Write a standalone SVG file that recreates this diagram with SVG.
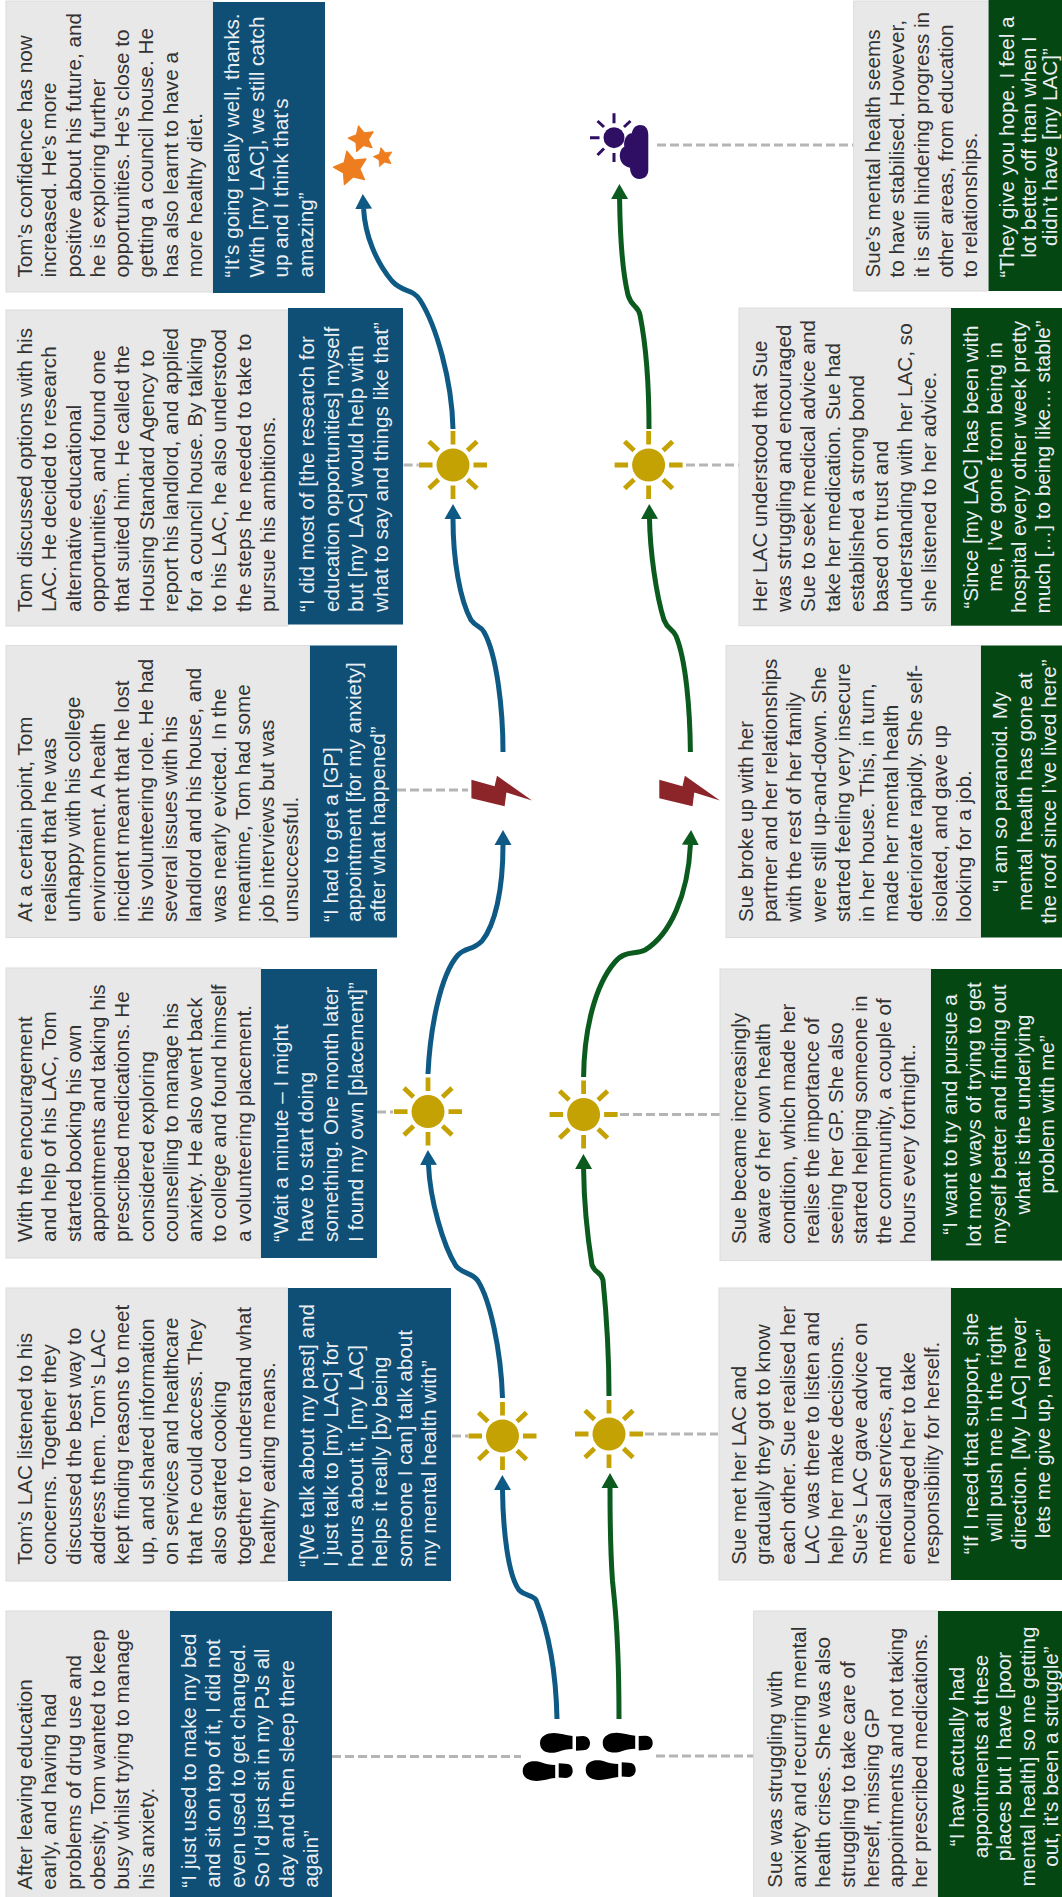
<svg xmlns="http://www.w3.org/2000/svg" xmlns:xlink="http://www.w3.org/1999/xlink" width="1062" height="1897" viewBox="0 0 1062 1897">
<style>
text{font-family:"Liberation Sans",Arial,sans-serif;font-size:20.7px}
.t{fill:#333}
.q{fill:#e9eef2}
.c{text-anchor:middle}
.g{fill:#e8e8e8;stroke:#dcdcdc;stroke-width:1}
.b{fill:#0f4f76}
.d{fill:#054713}
.flow{fill:none;stroke-width:5;stroke-linecap:butt}
.tom{stroke:#0f5a84;marker-end:url(#ab)}
.sue{stroke:#0b5a1e;marker-end:url(#ag)}
.dash{fill:none;stroke:#b5b5b5;stroke-width:3;stroke-dasharray:9 4}
.foot{fill:#000}
.star{fill:#ed7d1f;stroke:#ed7d1f;stroke-width:.08;stroke-linejoin:round}
.ray{stroke:#c4a204;stroke-width:4.8;fill:none}
.ray2{stroke:#2e0f63;stroke-width:3;fill:none}
</style>
<defs>
<marker id="ab" markerUnits="userSpaceOnUse" markerWidth="17" markerHeight="18" refX="0" refY="9" orient="auto"><path d="M0,0.5 L15,9 L0,17.5 Z" fill="#0f5a84"/></marker>
<marker id="ag" markerUnits="userSpaceOnUse" markerWidth="17" markerHeight="18" refX="0" refY="9" orient="auto"><path d="M0,0.5 L15,9 L0,17.5 Z" fill="#0b5a1e"/></marker>
<g id="sun">
<circle r="16.5" fill="#c4a204"/>
<path class="ray" d="M-34,0H-20.5M20.5,0H34M0,-34V-20.5M0,20.5V34M-24,-23.5L-14.5,-14.5M24,-23.5L14.5,-14.5M-24,23.5L-14.5,14.5M24,23.5L14.5,14.5"/>
</g>
<g id="print">
<path d="M0,10 C0,3 7,0 14,0 C20,0 26,2.4 32.5,3 L32.5,16 C27,16.4 23,17 19,18.6 C12,21.2 0,20.5 0,10 Z"/>
<path d="M36,3.4 L43,3 C48,3 50,7 50,10 C50,14 48,17.2 43,17.2 L36,17.8 Z"/>
</g>
<polygon id="starshape" points="-.242,-.97 .187,-.464 .848,-.53 .499,.035 .766,.643 .121,.485 -.375,.927 -.424,.265 -.998,-.07 -.383,-.321"/>
<g id="bolt"><polygon points="471.4,779.8 494.6,786.3 497,775.7 532,800.6 506.4,792.4 504.6,806.3 471.4,798.2" fill="#8c2529"/></g>
</defs>
<rect width="1062" height="1897" fill="#fff"/>

<g id="connectors">
<path class="dash" d="M332,1756.5H521"/>
<path class="dash" d="M656,1756H756"/>
<path class="dash" d="M452,1436H468"/>
<path class="dash" d="M645,1434H718"/>
<path class="dash" d="M377,1112H393"/>
<path class="dash" d="M620,1114.5H721"/>
<path class="dash" d="M397,790H468"/>
<path class="dash" d="M403.6,465H418.6"/>
<path class="dash" d="M686,465H742"/>
<path class="dash" d="M657,145H853.6"/>
<path class="flow tom" d="M557,1719 C556,1670 548,1630 536,1600 C533,1595 525,1596 519,1590 C508,1575 503,1530 502.5,1490"/>
<path class="flow tom" d="M502.5,1398 C501,1350 490,1300 478,1281 C472,1272 464,1275 456,1266 C443,1245 430,1200 428.5,1165"/>
<path class="flow tom" d="M428,1074 C430,1030 440,975 458,955 C466,947 472,951 482,941 C495,925 503,890 503,845"/>
<path class="flow tom" d="M503,752 C503,710 497,655 484,632 C480,625 477,628 471,620 C460,600 453,560 453,519"/>
<path class="flow tom" d="M453,429 C452,380 436,325 420,300 C412,288 403,293 392,281 C376,262 365,235 363.6,209"/>
<path class="flow sue" d="M619,1719 C619,1680 617,1625 614,1596 L612.5,1581 C611,1560 610,1530 610,1488"/>
<path class="flow sue" d="M609,1396 C609,1360 606,1310 603,1280 C600,1270 596,1275 592,1265 C588,1240 584,1205 583.6,1169"/>
<path class="flow sue" d="M583.6,1077 C584,1030 595,985 615,962 C625,950 635,955 645,950 C670,935 688,895 690.4,845"/>
<path class="flow sue" d="M690.4,752 C690,710 686,660 676,636 C672,628 668,630 664,620 C656,595 650,550 649.5,519"/>
<path class="flow sue" d="M649,429 C649,390 646,345 640,315 C638,305 632,308 628,295 C622,270 620,230 619.6,199"/>
</g>

<g id="icon-feet" class="foot">
<use href="#print" transform="translate(540,1733)"/>
<use href="#print" transform="translate(602.7,1732.7)"/>
<use href="#print" transform="translate(522.7,1781) scale(1,-1)"/>
<use href="#print" transform="translate(585.7,1780) scale(1,-1)"/>
</g>
<g id="icon-sun-a"><use href="#sun" x="502.5" y="1436"/></g>
<g id="icon-sun-b"><use href="#sun" x="609" y="1434"/></g>
<g id="icon-sun-c"><use href="#sun" x="428" y="1111.6"/></g>
<g id="icon-sun-d"><use href="#sun" x="583.6" y="1114.5"/></g>
<g id="icon-sun-e"><use href="#sun" x="453" y="465"/></g>
<g id="icon-sun-f"><use href="#sun" x="648.6" y="465"/></g>
<g id="icon-bolt-tom"><use href="#bolt"/></g>
<g id="icon-bolt-sue"><use href="#bolt" x="187.9"/></g>
<g id="icon-stars" class="star">
<use href="#starshape" transform="translate(351,168.3) scale(17.5)"/>
<use href="#starshape" transform="translate(361.7,139) scale(13.5)"/>
<use href="#starshape" transform="translate(383.3,157.3) scale(10)"/>
</g>
<g id="icon-cloud">
<circle cx="614" cy="137.7" r="10.5" fill="#2e0f63"/>
<path class="ray2" d="M590,137.7H599.5M614,113.3V123.3M614,153V162M597.5,121L604,127M630.5,121L624,127M597.5,155L604,148.5"/>
<path fill="#2e0f63" d="M648.3,135 C648.3,128 645,125 640,125 C635,125 632.7,129 631.7,133.3 C626.7,133.3 623.3,140 624.3,146.7 C620.7,148.3 619.3,153.3 620,157.7 C620.7,163.3 625,166.7 630,167.7 C630,173.3 633.3,179 639.3,179 C645,179 648.3,175 648.3,170 Z"/>
</g>

<g id="tom-0"><rect class="g" x="6" y="1611" width="164" height="290"/><rect class="b" x="170" y="1611" width="162" height="290"/>
<text class="t" transform="translate(32,1889.7) rotate(-90)"><tspan x="0">After leaving education</tspan><tspan x="0" dy="24.3">early, and having had</tspan><tspan x="0" dy="24.3">problems of drug use and</tspan><tspan x="0" dy="24.3">obesity, Tom wanted to keep</tspan><tspan x="0" dy="24.3">busy whilst trying to manage</tspan><tspan x="0" dy="24.3">his anxiety.</tspan></text>
<text class="q" transform="translate(196,1887.7) rotate(-90)"><tspan x="0">“I just used to make my bed</tspan><tspan x="0" dy="24.4">and sit on top of it, I did not</tspan><tspan x="0" dy="24.4">even used to get changed.</tspan><tspan x="0" dy="24.4">So I’d just sit in my PJs all</tspan><tspan x="0" dy="24.4">day and then sleep there</tspan><tspan x="0" dy="24.4">again”</tspan></text></g>

<g id="tom-1"><rect class="g" x="6" y="1288" width="282" height="293"/><rect class="b" x="288" y="1288" width="163" height="293"/>
<text class="t" transform="translate(32,1564.7) rotate(-90)"><tspan x="0">Tom’s LAC listened to his</tspan><tspan x="0" dy="24.3">concerns. Together they</tspan><tspan x="0" dy="24.3">discussed the best way to</tspan><tspan x="0" dy="24.3">address them. Tom’s LAC</tspan><tspan x="0" dy="24.3">kept finding reasons to meet</tspan><tspan x="0" dy="24.3">up, and shared information</tspan><tspan x="0" dy="24.3">on services and healthcare</tspan><tspan x="0" dy="24.3">that he could access. They</tspan><tspan x="0" dy="24.3">also started cooking</tspan><tspan x="0" dy="24.3">together to understand what</tspan><tspan x="0" dy="24.3">healthy eating means.</tspan></text>
<text class="q" transform="translate(314,1567) rotate(-90)"><tspan x="0">“[We talk about my past] and</tspan><tspan x="0" dy="24.4">I just talk to [my LAC] for</tspan><tspan x="0" dy="24.4">hours about it, [my LAC]</tspan><tspan x="0" dy="24.4">helps it really [by being</tspan><tspan x="0" dy="24.4">someone I can] talk about</tspan><tspan x="0" dy="24.4">my mental health with”</tspan></text></g>

<g id="tom-2"><rect class="g" x="6" y="968" width="255" height="290"/><rect class="b" x="261" y="969" width="116" height="289"/>
<text class="t" transform="translate(32,1242) rotate(-90)"><tspan x="0">With the encouragement</tspan><tspan x="0" dy="24.3">and help of his LAC, Tom</tspan><tspan x="0" dy="24.3">started booking his own</tspan><tspan x="0" dy="24.3">appointments and taking his</tspan><tspan x="0" dy="24.3">prescribed medications. He</tspan><tspan x="0" dy="24.3">considered exploring</tspan><tspan x="0" dy="24.3">counselling to manage his</tspan><tspan x="0" dy="24.3">anxiety. He also went back</tspan><tspan x="0" dy="24.3">to college and found himself</tspan><tspan x="0" dy="24.3">a volunteering placement.</tspan></text>
<text class="q" transform="translate(287.5,1242) rotate(-90)"><tspan x="0">“Wait a minute – I might</tspan><tspan x="0" dy="25">have to start doing</tspan><tspan x="0" dy="25">something. One month later</tspan><tspan x="0" dy="25">I found my own [placement]”</tspan></text></g>

<g id="tom-3"><rect class="g" x="6" y="645.5" width="304" height="292"/><rect class="b" x="310" y="645.5" width="87" height="292"/>
<text class="t" transform="translate(32,922) rotate(-90)"><tspan x="0">At a certain point, Tom</tspan><tspan x="0" dy="24.2">realised that he was</tspan><tspan x="0" dy="24.2">unhappy with his college</tspan><tspan x="0" dy="24.2">environment. A health</tspan><tspan x="0" dy="24.2">incident meant that he lost</tspan><tspan x="0" dy="24.2">his volunteering role. He had</tspan><tspan x="0" dy="24.2">several issues with his</tspan><tspan x="0" dy="24.2">landlord and his house, and</tspan><tspan x="0" dy="24.2">was nearly evicted. In the</tspan><tspan x="0" dy="24.2">meantime, Tom had some</tspan><tspan x="0" dy="24.2">job interviews but was</tspan><tspan x="0" dy="24.2">unsuccessful.</tspan></text>
<text class="q" transform="translate(337.5,922) rotate(-90)"><tspan x="0">“I had to get a [GP]</tspan><tspan x="0" dy="23.5">appointment [for my anxiety]</tspan><tspan x="0" dy="23.5">after what happened”</tspan></text></g>

<g id="tom-4"><rect class="g" x="6" y="310" width="282" height="316"/><rect class="b" x="288" y="308" width="115" height="316.5"/>
<text class="t" transform="translate(32,612) rotate(-90)"><tspan x="0">Tom discussed options with his</tspan><tspan x="0" dy="24.3">LAC. He decided to research</tspan><tspan x="0" dy="24.3">alternative educational</tspan><tspan x="0" dy="24.3">opportunities, and found one</tspan><tspan x="0" dy="24.3">that suited him. He called the</tspan><tspan x="0" dy="24.3">Housing Standard Agency to</tspan><tspan x="0" dy="24.3">report his landlord, and applied</tspan><tspan x="0" dy="24.3">for a council house. By talking</tspan><tspan x="0" dy="24.3">to his LAC, he also understood</tspan><tspan x="0" dy="24.3">the steps he needed to take to</tspan><tspan x="0" dy="24.3">pursue his ambitions.</tspan></text>
<text class="q" transform="translate(314,612) rotate(-90)"><tspan x="0">“I did most of [the research for</tspan><tspan x="0" dy="24.5">education opportunities] myself</tspan><tspan x="0" dy="24.5">but [my LAC] would help with</tspan><tspan x="0" dy="24.5">what to say and things like that”</tspan></text></g>

<g id="tom-5"><rect class="g" x="6" y="1" width="207" height="291"/><rect class="b" x="213" y="2" width="112" height="291"/>
<text class="t" transform="translate(32,277.5) rotate(-90)"><tspan x="0">Tom’s confidence has now</tspan><tspan x="0" dy="24.25">increased. He’s more</tspan><tspan x="0" dy="24.25">positive about his future, and</tspan><tspan x="0" dy="24.25">he is exploring further</tspan><tspan x="0" dy="24.25">opportunities. He’s close to</tspan><tspan x="0" dy="24.25">getting a council house. He</tspan><tspan x="0" dy="24.25">has also learnt to have a</tspan><tspan x="0" dy="24.25">more healthy diet.</tspan></text>
<text class="q" transform="translate(239,277.5) rotate(-90)"><tspan x="0">“It’s going really well, thanks.</tspan><tspan x="0" dy="24.5">With [my LAC], we still catch</tspan><tspan x="0" dy="24.5">up and I think that’s</tspan><tspan x="0" dy="24.5">amazing”</tspan></text></g>

<g id="sue-0"><rect class="g" x="753.6" y="1611" width="184.4" height="290"/><rect class="d" x="938" y="1611" width="124" height="290"/>
<text class="t" transform="translate(782,1887.7) rotate(-90)"><tspan x="0">Sue was struggling with</tspan><tspan x="0" dy="24.2">anxiety and recurring mental</tspan><tspan x="0" dy="24.2">health crises. She was also</tspan><tspan x="0" dy="24.2">struggling to take care of</tspan><tspan x="0" dy="24.2">herself, missing GP</tspan><tspan x="0" dy="24.2">appointments and not taking</tspan><tspan x="0" dy="24.2">her prescribed medications.</tspan></text>
<text class="q c" transform="translate(964,1756.5) rotate(-90)"><tspan x="0">“I have actually had</tspan><tspan x="0" dy="23.6">appointments at these</tspan><tspan x="0" dy="23.6">places but I have [poor</tspan><tspan x="0" dy="23.6">mental health] so me getting</tspan><tspan x="0" dy="23.6">out, it’s been a struggle”</tspan></text></g>

<g id="sue-1"><rect class="g" x="719" y="1288" width="232" height="292"/><rect class="d" x="951" y="1288" width="111" height="292"/>
<text class="t" transform="translate(746.4,1564.7) rotate(-90)"><tspan x="0">Sue met her LAC and</tspan><tspan x="0" dy="24.1">gradually they got to know</tspan><tspan x="0" dy="24.1">each other. Sue realised her</tspan><tspan x="0" dy="24.1">LAC was there to listen and</tspan><tspan x="0" dy="24.1">help her make decisions.</tspan><tspan x="0" dy="24.1">Sue’s LAC gave advice on</tspan><tspan x="0" dy="24.1">medical services, and</tspan><tspan x="0" dy="24.1">encouraged her to take</tspan><tspan x="0" dy="24.1">responsibility for herself.</tspan></text>
<text class="q c" transform="translate(977.5,1433.5) rotate(-90)"><tspan x="0">“If I need that support, she</tspan><tspan x="0" dy="24.2">will push me in the right</tspan><tspan x="0" dy="24.2">direction. [My LAC] never</tspan><tspan x="0" dy="24.2">lets me give up, never”</tspan></text></g>

<g id="sue-2"><rect class="g" x="720" y="969" width="211" height="291.6"/><rect class="d" x="931" y="969" width="131" height="291.6"/>
<text class="t" transform="translate(746.4,1244) rotate(-90)"><tspan x="0">Sue became increasingly</tspan><tspan x="0" dy="24.1">aware of her own health</tspan><tspan x="0" dy="24.1">condition, which made her</tspan><tspan x="0" dy="24.1">realise the importance of</tspan><tspan x="0" dy="24.1">seeing her GP. She also</tspan><tspan x="0" dy="24.1">started helping someone in</tspan><tspan x="0" dy="24.1">the community, a couple of</tspan><tspan x="0" dy="24.1">hours every fortnight..</tspan></text>
<text class="q c" transform="translate(957,1114.5) rotate(-90)"><tspan x="0">“I want to try and pursue a</tspan><tspan x="0" dy="24.3">lot more ways of trying to get</tspan><tspan x="0" dy="24.3">myself better and finding out</tspan><tspan x="0" dy="24.3">what is the underlying</tspan><tspan x="0" dy="24.3">problem with me”</tspan></text></g>

<g id="sue-3"><rect class="g" x="726" y="645.5" width="255" height="292"/><rect class="d" x="981" y="645.5" width="81" height="292"/>
<text class="t" transform="translate(753,922) rotate(-90)"><tspan x="0">Sue broke up with her</tspan><tspan x="0" dy="24.2">partner and her relationships</tspan><tspan x="0" dy="24.2">with the rest of her family</tspan><tspan x="0" dy="24.2">were still up-and-down. She</tspan><tspan x="0" dy="24.2">started feeling very insecure</tspan><tspan x="0" dy="24.2">in her house. This, in turn,</tspan><tspan x="0" dy="24.2">made her mental health</tspan><tspan x="0" dy="24.2">deteriorate rapidly. She self-</tspan><tspan x="0" dy="24.2">isolated, and gave up</tspan><tspan x="0" dy="24.2">looking for a job.</tspan></text>
<text class="q c" transform="translate(1007,791.6) rotate(-90)"><tspan x="0">“I am so paranoid. My</tspan><tspan x="0" dy="24.5">mental health has gone at</tspan><tspan x="0" dy="24.5">the roof since I’ve lived here”</tspan></text></g>

<g id="sue-4"><rect class="g" x="739" y="308" width="212" height="317.7"/><rect class="d" x="951" y="308" width="111" height="317.7"/>
<text class="t" transform="translate(767,612) rotate(-90)"><tspan x="0">Her LAC understood that Sue</tspan><tspan x="0" dy="24.2">was struggling and encouraged</tspan><tspan x="0" dy="24.2">Sue to seek medical advice and</tspan><tspan x="0" dy="24.2">take her medication. Sue had</tspan><tspan x="0" dy="24.2">established a strong bond</tspan><tspan x="0" dy="24.2">based on trust and</tspan><tspan x="0" dy="24.2">understanding with her LAC, so</tspan><tspan x="0" dy="24.2">she listened to her advice.</tspan></text>
<text class="q c" transform="translate(977.5,467) rotate(-90)"><tspan x="0">“Since [my LAC] has been with</tspan><tspan x="0" dy="24.2">me, I’ve gone from being in</tspan><tspan x="0" dy="24.2">hospital every other week pretty</tspan><tspan x="0" dy="24.2">much […] to being like… stable”</tspan></text></g>

<g id="sue-5"><rect class="g" x="853.6" y="1" width="135" height="290"/><rect class="d" x="988.6" y="0" width="73.4" height="291"/>
<text class="t" transform="translate(880,277.5) rotate(-90)"><tspan x="0">Sue’s mental health seems</tspan><tspan x="0" dy="24.25">to have stabilised. However,</tspan><tspan x="0" dy="24.25">it is still hindering progress in</tspan><tspan x="0" dy="24.25">other areas, from education</tspan><tspan x="0" dy="24.25">to relationships.</tspan></text>
<text class="q c" transform="translate(1014,147) rotate(-90)"><tspan x="0">“They give you hope. I feel a</tspan><tspan x="0" dy="21.5">lot better off than when I</tspan><tspan x="0" dy="21.5">didn’t have [my LAC]”</tspan></text></g>
</svg>
